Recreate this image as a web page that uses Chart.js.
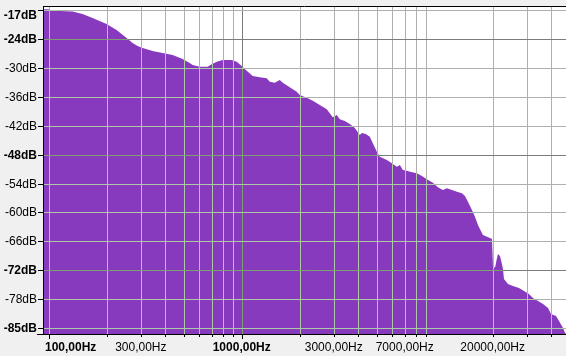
<!DOCTYPE html>
<html><head><meta charset="utf-8">
<script src="https://cdn.jsdelivr.net/npm/chart.js@4"></script>
<style>html,body{margin:0;padding:0;background:#f0f0f0;overflow:hidden}canvas{display:block}</style>
</head><body>
<canvas id="c" width="566" height="356"></canvas>
<script>
const freqHz = [93.3,100.8,102,113.6,115,132.7,149.6,168.6,183.3,199.3,211.5,224.6,238.4,253.1,271.9,288.7,306.4,345.2,389,438.5,465.5,494.1,537,557,605,666,699,742,797,887,942,1000,1061,1141,1240,1348,1398,1484,1575,1633,1775,1929,2000,2174,2336,2540,2761,2967,3112,3226,3424,3635,3859,4097,4195,4400,4616,4784,5018,5202,5655,6002,6372,6606,6847,7183,7445,8094,8593,9120,9799,10400,11040,11580,12300,13060,13860,14370,14890,15620,16190,16780,17810,19360,19840,20070,20560,21060,21310,21830,22090,22620,22890,24010,25490,27380,29060,30850,32360,34360,36480,38730,40140,42610,44170,46330,47450,48000];
const levelDb = [-17.76,-17.76,-17.91,-17.97,-18.12,-18.22,-18.74,-19.57,-20.19,-20.82,-21.44,-22.07,-22.90,-23.73,-24.77,-25.39,-25.81,-26.43,-26.85,-27.26,-27.68,-28.10,-28.93,-29.34,-29.70,-29.70,-29.20,-28.66,-28.30,-28.30,-28.66,-29.55,-30.53,-31.63,-31.90,-32.11,-32.81,-33.02,-32.46,-33.02,-33.98,-34.89,-35.58,-36.14,-36.77,-37.66,-38.55,-40.22,-39.74,-40.63,-40.99,-41.61,-42.44,-43.90,-43.48,-43.69,-44.25,-45.62,-47.37,-48.41,-49.09,-49.78,-50.49,-50.13,-51.17,-51.32,-51.53,-51.86,-52.42,-53.11,-53.81,-54.77,-55.33,-54.98,-55.33,-55.68,-56.02,-56.58,-57.76,-59.49,-60.88,-62.61,-64.69,-65.31,-65.52,-70.92,-71.55,-69.47,-68.64,-69.05,-69.88,-71.76,-73.84,-74.88,-75.29,-75.71,-76.33,-76.96,-77.79,-78.41,-79.04,-79.87,-81.12,-81.54,-82.58,-84.03,-85.07,-85.28];

const yTickValues = [-17.9,-24,-30,-36,-42,-48,-54,-60,-66,-72,-78,-84.1];
const yTickLabels = ['-17dB','-24dB','-30dB','-36dB','-42dB','-48dB','-54dB','-60dB','-66dB','-72dB','-78dB','-85dB'];
const yBoldLabels = ['-17dB','-24dB','-48dB','-72dB','-85dB'];
const yMajorValues = [-24,-48,-72];

const xGridHz = [100,200,300,400,500,600,700,800,900,1000,2000,3000,4000,5000,6000,7000,8000,9000,20000,30000,40000];
const xMajorHz = [100,1000];
const xMajorLineHz = [1000];
const xLabelHz = [100,300,1000,3000,7000,20000];
const xLabelText = ['100,00Hz','300,00Hz','1000,00Hz','3000,00Hz','7000,00Hz','20000,00Hz'];
const xBoldLabels = ['100,00Hz','1000,00Hz'];

const xMin = 93.3, xMax = 48000, yMin = -85.28, yMax = -17.08;

const purple = 'rgb(136,58,190)';
const gridMinorWhite = '#b0b0b0', gridMajorWhite = '#7c7c7c';
const gridMinorPurple = '#acc8a4', gridMajorPurple = '#7ea070';
const FONT = '"Liberation Sans", Arial, sans-serif';

const spectrumPlugin = {
  id: 'spectrum',
  beforeDraw(chart) {
    const {ctx, chartArea: a} = chart;
    ctx.save();
    ctx.fillStyle = '#f0f0f0';
    ctx.fillRect(0, 0, chart.width, chart.height);
    ctx.fillStyle = '#ffffff';
    ctx.fillRect(a.left, a.top, a.right - a.left, a.bottom - a.top);
    ctx.restore();
  },
  afterDatasetsDraw(chart) {
    const {ctx, chartArea: a, scales} = chart;
    const xs = scales.x, ys = scales.y;
    const pts = chart.getDatasetMeta(0).data;
    const drawGrid = (minorCol, majorCol) => {
      ctx.lineWidth = 1;
      for (const f of xGridHz) {
        const px = Math.round(xs.getPixelForValue(f)) + 0.5;
        ctx.strokeStyle = xMajorLineHz.includes(f) ? majorCol : minorCol;
        ctx.beginPath(); ctx.moveTo(px, a.top); ctx.lineTo(px, a.bottom); ctx.stroke();
      }
      for (const v of yTickValues) {
        const py = Math.round(ys.getPixelForValue(v)) + 0.5;
        ctx.strokeStyle = yMajorValues.includes(v) ? majorCol : minorCol;
        ctx.beginPath(); ctx.moveTo(a.left, py); ctx.lineTo(a.right, py); ctx.stroke();
      }
    };
    ctx.save();
    ctx.beginPath(); ctx.rect(a.left, a.top, a.right - a.left, a.bottom - a.top); ctx.clip();
    drawGrid(gridMinorWhite, gridMajorWhite);
    ctx.beginPath();
    ctx.moveTo(pts[0].x, a.bottom);
    for (const p of pts) ctx.lineTo(p.x, p.y);
    ctx.lineTo(pts[pts.length - 1].x, a.bottom);
    ctx.closePath();
    ctx.clip();
    drawGrid(gridMinorPurple, gridMajorPurple);
    ctx.restore();
  },
  afterDraw(chart) {
    const {ctx, chartArea: a, scales} = chart;
    const xs = scales.x, ys = scales.y;
    ctx.save();
    ctx.strokeStyle = '#000'; ctx.lineWidth = 1;
    ctx.beginPath();
    ctx.moveTo(a.left + 0.5, a.top); ctx.lineTo(a.left + 0.5, a.bottom + 1);
    ctx.moveTo(a.left, a.top + 0.5); ctx.lineTo(a.right, a.top + 0.5);
    ctx.moveTo(a.left - 6, a.bottom + 0.5); ctx.lineTo(a.right, a.bottom + 0.5);
    ctx.stroke();
    // y ticks & labels
    ctx.fillStyle = '#000'; ctx.textAlign = 'right'; ctx.textBaseline = 'middle';
    yTickValues.forEach((v, i) => {
      const py = Math.round(ys.getPixelForValue(v)) + 0.5;
      ctx.beginPath(); ctx.moveTo(a.left - 5, py); ctx.lineTo(a.left, py); ctx.stroke();
      const lbl = yTickLabels[i];
      ctx.font = (yBoldLabels.includes(lbl) ? 'bold ' : '') + '12px ' + FONT;
      ctx.fillText(lbl, a.left - 6, Math.max(py, a.top + 9.5));
    });
    // x ticks
    for (const f of xGridHz) {
      const px = Math.round(xs.getPixelForValue(f)) + 0.5;
      const len = xMajorHz.includes(f) ? 5 : 3;
      ctx.beginPath(); ctx.moveTo(px, a.bottom); ctx.lineTo(px, a.bottom + len); ctx.stroke();
    }
    ctx.textAlign = 'left'; ctx.textBaseline = 'alphabetic';
    xLabelHz.forEach((f, i) => {
      const lbl = xLabelText[i];
      ctx.font = (xBoldLabels.includes(lbl) ? 'bold ' : '') + '12px ' + FONT;
      const w = ctx.measureText(lbl).width;
      const px = xs.getPixelForValue(f);
      const lx = Math.max(px - w / 2, a.left + 2);
      ctx.fillText(lbl, lx, a.bottom + 17);
    });
    ctx.restore();
  }
};

new Chart(document.getElementById('c'), {
  type: 'line',
  data: {
    datasets: [{
      data: freqHz.map((f, i) => ({x: f, y: levelDb[i]})),
      fill: 'start',
      backgroundColor: purple,
      borderColor: purple,
      borderWidth: 0,
      pointRadius: 0,
      tension: 0
    }]
  },
  options: {
    responsive: false,
    animation: false,
    devicePixelRatio: 1,
    layout: {padding: {left: 43, top: 6, right: 0, bottom: 22}},
    scales: {
      x: {type: 'logarithmic', min: xMin, max: xMax, display: false},
      y: {type: 'linear', min: yMin, max: yMax, display: false}
    },
    plugins: {legend: {display: false}, tooltip: {enabled: false}}
  },
  plugins: [spectrumPlugin]
});
</script>
</body></html>
